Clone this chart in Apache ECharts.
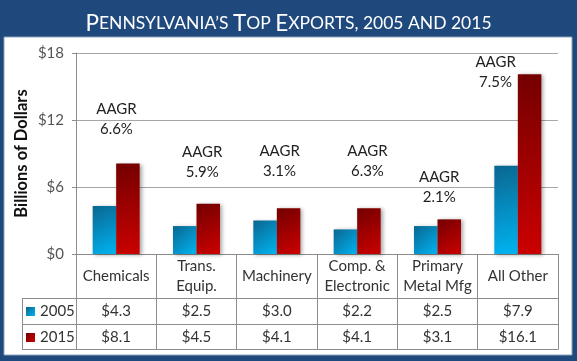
<!DOCTYPE html>
<html>
<head>
<meta charset="utf-8">
<script src="https://cdn.jsdelivr.net/npm/echarts@6/dist/echarts.min.js"></script>
<style>
html,body{margin:0;padding:0;background:#1F497D;}
#chart{width:577px;height:361px;}
</style>
</head>
<body>
<div id="chart"></div>
<script>
// ---- data ----
const categories = ['Chemicals', 'Trans.\nEquip.', 'Machinery', 'Comp. &\nElectronic', 'Primary\nMetal Mfg', 'All Other'];
const years = ['2005', '2015'];
const values2005 = [4.3, 2.5, 3.0, 2.2, 2.5, 7.9];
const values2015 = [8.1, 4.5, 4.1, 4.1, 3.1, 16.1];
const aagr = ['6.6%', '5.9%', '3.1%', '6.3%', '2.1%', '7.5%'];
const yTicks = [0, 6, 12, 18];

// ---- layout (not data) ----
const G = {left: 76, top: 53, width: 482, height: 201};
const aagrOffsets = [[-11.5, -24.5], [-6, -21.7], [-9, -27], [-1.5, -27], [-10, -12.4], [-34, 17.8]];
const FONT = 'Lato';
const LINE = '#8c8c8c';

const chart = echarts.init(document.getElementById('chart'), null, {renderer: 'canvas'});

const grad2005 = new echarts.graphic.LinearGradient(0, 0, 1, 1, [
  {offset: 0, color: '#0a6690'}, {offset: 1, color: '#00b4f2'}]);
const grad2015 = new echarts.graphic.LinearGradient(0, 0, 1, 1, [
  {offset: 0, color: '#730000'}, {offset: 1, color: '#cc0000'}]);

const tableBottom = G.top + G.height + 95;
const row1 = G.top + G.height + 44;
const row2 = G.top + G.height + 70;
const tableLeft = 22;
const right = G.left + G.width;

const option = {
  backgroundColor: '#1F497D',
  animation: false,
  textStyle: {fontFamily: FONT},
  title: {
    left: 'center', top: 7,
    text: '{b|P}{s|ENNSYLVANIA\u2019S }{b|T}{s|OP }{b|E}{s|XPORTS, 2005 AND 2015}',
    textStyle: {
      fontWeight: 'normal',
      rich: {
        b: {fontSize: 22.5, color: '#fff', fontFamily: FONT, fontWeight: 'normal'},
        s: {fontSize: 17.5, color: '#fff', fontFamily: FONT, fontWeight: 'normal'}
      }
    }
  },
  legend: {
    data: years, orient: 'vertical', left: 26, top: 304, padding: 0,
    itemWidth: 9, itemHeight: 9, itemGap: 11, icon: 'rect',
    textStyle: {fontSize: 15, color: '#333', fontFamily: FONT}
  },
  grid: {left: G.left, top: G.top, width: G.width, height: G.height, containLabel: false},
  xAxis: [
    {
      type: 'category', data: categories, position: 'bottom',
      axisLine: {lineStyle: {color: LINE}},
      axisTick: {show: true, length: 95, interval: 0, lineStyle: {color: LINE}},
      axisLabel: {interval: 0, margin: 22, verticalAlign: 'middle', lineHeight: 20, fontSize: 15, color: '#333', fontFamily: FONT}
    },
    {
      type: 'category', data: categories, position: 'bottom', offset: 44,
      axisLine: {show: false}, axisTick: {show: false},
      axisLabel: {interval: 0, margin: 13, verticalAlign: 'middle', fontSize: 15, color: '#333', fontFamily: FONT,
        formatter: (v, i) => '$' + values2005[i].toFixed(1)}
    },
    {
      type: 'category', data: categories, position: 'bottom', offset: 70,
      axisLine: {show: false}, axisTick: {show: false},
      axisLabel: {interval: 0, margin: 13, verticalAlign: 'middle', fontSize: 15, color: '#333', fontFamily: FONT,
        formatter: (v, i) => '$' + values2015[i].toFixed(1)}
    }
  ],
  yAxis: {
    type: 'value', min: yTicks[0], max: yTicks[yTicks.length - 1], interval: yTicks[1] - yTicks[0],
    name: 'Billions of Dollars', nameLocation: 'middle', nameRotate: 90, nameGap: 46, nameMoveOverlap: false,
    nameTextStyle: {fontSize: 16.5, fontWeight: 'bold', color: '#111', fontFamily: FONT},
    axisLine: {show: true, lineStyle: {color: LINE}},
    axisTick: {show: true, length: 4, lineStyle: {color: LINE}},
    splitLine: {lineStyle: {color: '#a6a6a6'}},
    axisLabel: {margin: 12, fontSize: 15, color: '#555', fontFamily: FONT, formatter: v => '$' + v}
  },
  series: [
    {
      name: years[0], type: 'bar', data: values2005,
      barGap: '0%', barCategoryGap: '41.5%',
      itemStyle: {color: grad2005, shadowColor: 'rgba(0,0,0,0.35)', shadowBlur: 4, shadowOffsetX: 2, shadowOffsetY: 1}
    },
    {
      name: years[1], type: 'bar', barGap: '0%', barCategoryGap: '41.5%',
      itemStyle: {color: grad2015, shadowColor: 'rgba(0,0,0,0.35)', shadowBlur: 4, shadowOffsetX: 2, shadowOffsetY: 1},
      data: values2015.map((v, i) => ({
        value: v,
        label: {
          show: true, position: 'top', distance: 0,
          offset: aagrOffsets[i],
          formatter: 'AAGR\n' + aagr[i],
          align: 'center', verticalAlign: 'bottom',
          fontSize: 15, lineHeight: 20, color: '#222', fontFamily: FONT
        }
      }))
    }
  ],
  graphic: [
    {type: 'rect', z: -100, shape: {x: 4, y: 37, width: 568, height: 318}, style: {fill: '#fff', stroke: '#8fa2bd', lineWidth: 1}},
    {type: 'line', z: 100, shape: {x1: tableLeft, y1: row1 + 0.5, x2: right, y2: row1 + 0.5}, style: {stroke: LINE, lineWidth: 1}},
    {type: 'line', z: 100, shape: {x1: tableLeft, y1: row2 + 0.5, x2: right, y2: row2 + 0.5}, style: {stroke: LINE, lineWidth: 1}},
    {type: 'line', z: 100, shape: {x1: tableLeft, y1: tableBottom + 0.5, x2: right + 0.5, y2: tableBottom + 0.5}, style: {stroke: LINE, lineWidth: 1}},
    {type: 'line', z: 100, shape: {x1: tableLeft + 0.5, y1: row1, x2: tableLeft + 0.5, y2: tableBottom + 1}, style: {stroke: LINE, lineWidth: 1}}
  ]
};
chart.setOption(option);
</script>
</body>
</html>
